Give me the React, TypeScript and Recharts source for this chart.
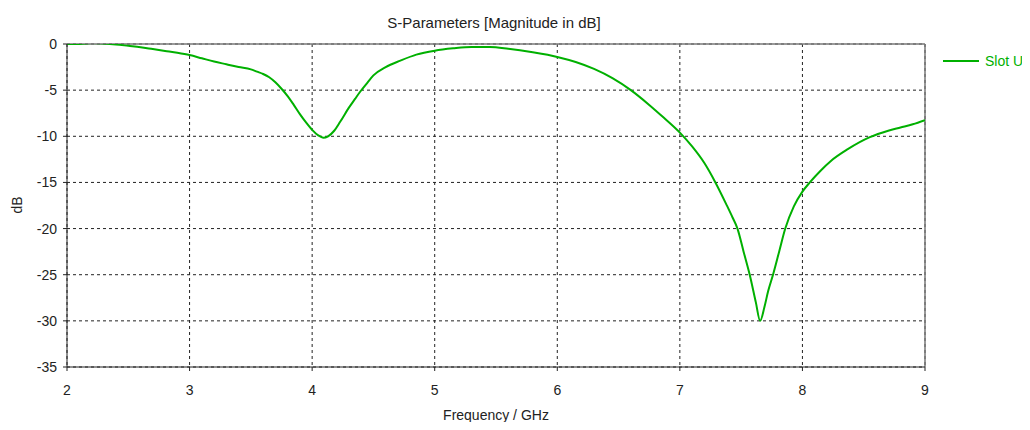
import React from "react";
import {
  CartesianGrid,
  Label,
  Line,
  LineChart,
  ReferenceLine,
  XAxis,
  YAxis,
} from "recharts";

const freq = [
  2.0, 2.1, 2.2, 2.3, 2.4, 2.5, 2.6, 2.7, 2.8, 2.9, 3.0, 3.1, 3.2, 3.3, 3.4,
  3.5, 3.55, 3.6, 3.65, 3.7, 3.75, 3.8, 3.85, 3.9, 3.95, 4.0, 4.05, 4.09, 4.13,
  4.18, 4.23, 4.3, 4.35, 4.39, 4.45, 4.5, 4.6, 4.72, 4.85, 5.0, 5.15, 5.3, 5.45,
  5.6, 5.8, 6.0, 6.15, 6.3, 6.45, 6.6, 6.75, 6.87, 7.0, 7.1, 7.2, 7.29, 7.38,
  7.43, 7.47, 7.52, 7.57, 7.62, 7.655, 7.69, 7.72, 7.76, 7.81, 7.86, 7.93, 8.0,
  8.06, 8.15, 8.23, 8.37, 8.55, 8.7, 8.8, 8.9, 9.0,
];

const slotU = [
  0, 0, 0.1, 0.05, -0.05, -0.2, -0.35, -0.55, -0.75, -0.95, -1.2, -1.55, -1.9,
  -2.2, -2.5, -2.75, -3.0, -3.25, -3.6, -4.15, -4.85, -5.65, -6.6, -7.6, -8.5,
  -9.3, -9.9, -10.15, -10.0, -9.4, -8.4, -6.9, -5.95, -5.2, -4.2, -3.4, -2.5,
  -1.8, -1.15, -0.72, -0.47, -0.32, -0.33, -0.52, -0.9, -1.4, -1.95, -2.7,
  -3.7, -5.0, -6.6, -8.0, -9.6, -11.1, -12.9, -15.0, -17.4, -18.8, -20.0,
  -22.5, -25.0, -28.0, -30.0, -28.5, -26.8, -25.0, -22.5, -20.0, -17.6, -16.0,
  -15.0, -13.7, -12.7, -11.4, -10.1, -9.4, -9.05, -8.7, -8.25,
];

const xTicks = [2, 3, 4, 5, 6, 7, 8, 9];
const yTicks = [0, -5, -10, -15, -20, -25, -30, -35];

const data = freq.map((f, i) => ({ f, slotU: slotU[i] }));

const GREEN = "#00b000";
const FONT = "'Liberation Sans', Arial, sans-serif";

export default function App() {
  return (
    <div style={{ position: "relative", width: 1014, height: 414, fontFamily: FONT }}>
      <div
        style={{
          position: "absolute",
          top: 6,
          left: 0,
          width: 972,
          textAlign: "center",
          fontSize: 15,
          color: "#222",
        }}
      >
        S-Parameters [Magnitude in dB]
      </div>
      {/* legend drawn outside the chart so it doesn't eat plot width */}
      <div
        style={{
          position: "absolute",
          top: 45,
          left: 934,
          display: "flex",
          alignItems: "center",
          whiteSpace: "nowrap",
        }}
      >
        <svg width={38} height={10}>
          <line x1={1} y1={5} x2={37} y2={5} stroke={GREEN} strokeWidth={2} />
        </svg>
        <span style={{ color: GREEN, fontSize: 14, marginLeft: 5 }}>Slot U</span>
      </div>
      <LineChart
        width={1014}
        height={414}
        data={data}
        margin={{ top: 36, right: 97, left: 0, bottom: 0 }}
      >
        <CartesianGrid stroke="#222" strokeDasharray="3 3" />
        <XAxis
          dataKey="f"
          type="number"
          domain={[2, 9]}
          ticks={xTicks}
          height={55}
          stroke="#222"
          tickSize={4}
          tickMargin={14}
          tick={{ fill: "#222", fontSize: 14 }}
          allowDataOverflow
        >
          <Label
            value="Frequency / GHz"
            position="insideBottom"
            offset={2}
            style={{ fill: "#222", fontSize: 14 }}
          />
        </XAxis>
        <YAxis
          type="number"
          domain={[-35, 0]}
          ticks={yTicks}
          width={59}
          stroke="#222"
          tickSize={4}
          tickMargin={6}
          tick={{ fill: "#222", fontSize: 14 }}
          allowDataOverflow
        >
          <Label
            content={() => (
              <text
                x={9}
                y={197}
                transform="rotate(-90, 9, 197)"
                textAnchor="middle"
                dominantBaseline="central"
                fill="#222"
                fontSize={14}
              >
                dB
              </text>
            )}
          />
        </YAxis>
        <ReferenceLine y={0} stroke="#777" strokeWidth={1.5} />
        <ReferenceLine x={9} stroke="#777" strokeWidth={1.5} />
        <Line
          type="monotone"
          dataKey="slotU"
          stroke={GREEN}
          strokeWidth={2}
          dot={false}
          isAnimationActive={false}
        />
      </LineChart>
    </div>
  );
}
